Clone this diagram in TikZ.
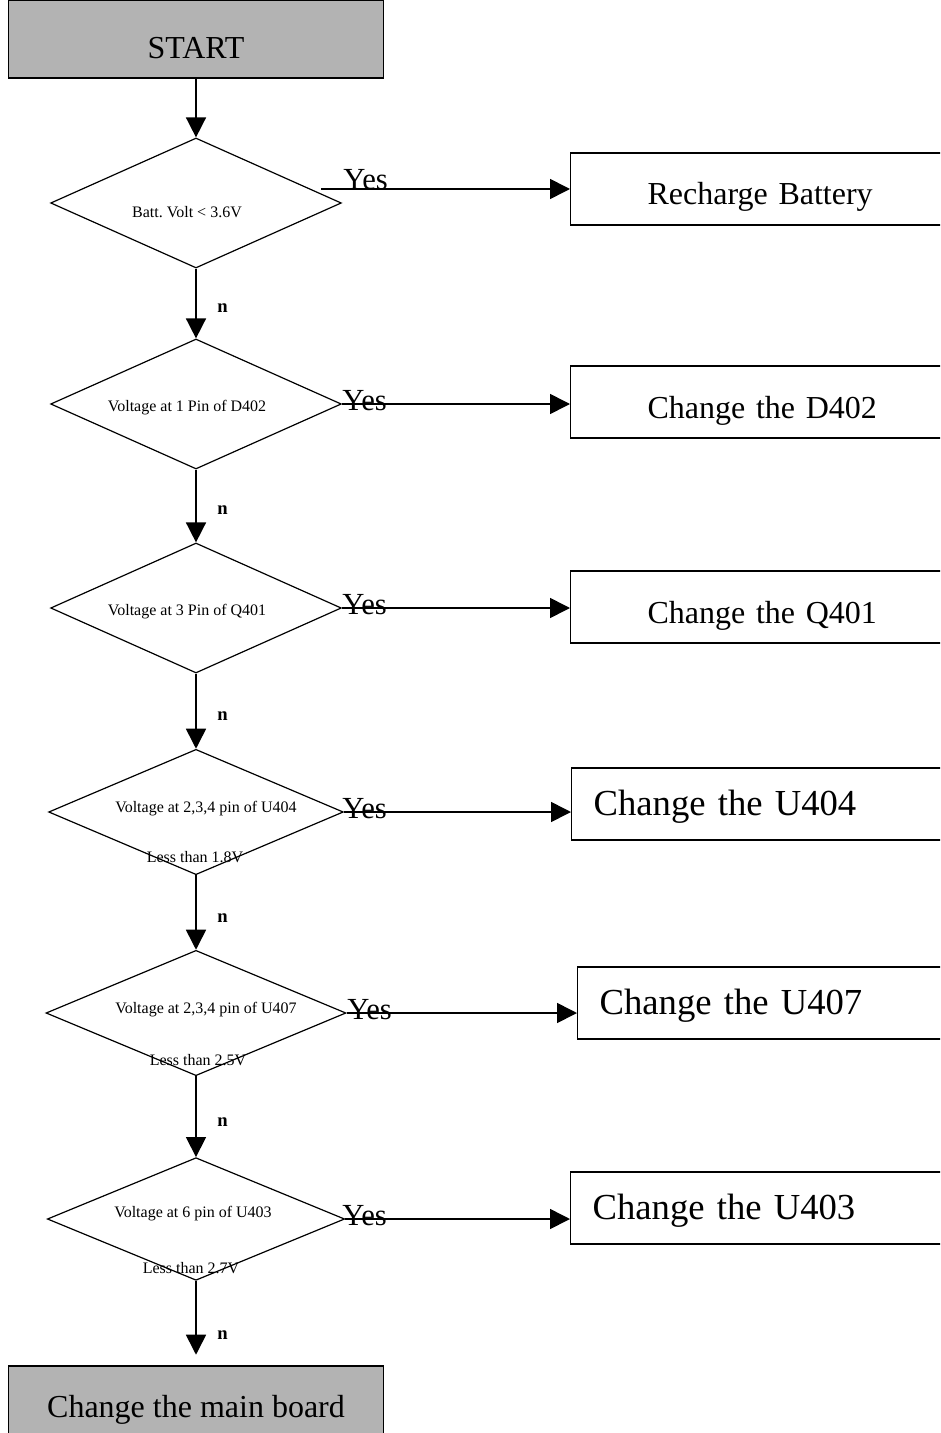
\documentclass[tikz,border=0pt]{standalone}
\usepackage{fontspec}
\setmainfont{Liberation Serif}
\usepackage{tikz}
\usetikzlibrary{shapes.geometric, arrows.meta, positioning, calc}
\definecolor{mygray}{RGB}{179,179,179}
\definecolor{mydark}{RGB}{0,0,0}
\frenchspacing
\tikzset{
  termbox/.style={rectangle, draw=mydark, fill=mygray,
    minimum width=281.25pt, minimum height=58.5pt,
    font=\fontsize{24}{28}\selectfont, line width=0.9pt},
  decision/.style={diamond, draw=mydark, inner sep=0pt, line width=0.9pt},
  actbox/.style={rectangle, draw=mydark, anchor=west,
    text width=300pt, align=left, minimum height=54pt, inner ysep=0pt,
    text height=24pt, text depth=0pt,
    font=\fontsize{24}{28}\selectfont, line width=0.9pt},
  bigact/.style={actbox, inner xsep=16.5pt, text height=20pt, text depth=3pt,
    font=\fontsize{27.5}{32}\selectfont},
  smalltxt/.style={font=\fontsize{12}{14}\selectfont, inner sep=0pt},
  yeslab/.style={anchor=base west, inner sep=0pt, font=\fontsize{23}{26}\selectfont},
  nlab/.style={right, inner sep=0pt, xshift=15.5pt, font=\bfseries\fontsize{14}{16}\selectfont},
  arrow/.style={-{Triangle[length=15pt, width=15pt]}, line width=1.2pt, color=mydark}
}
\begin{document}
\begin{tikzpicture}[x=0.75pt, y=-0.75pt]
  \useasboundingbox (0,0) rectangle (940,1433);
  \clip (0,0) rectangle (940,1433);

  % Start and end
  \node[termbox, text height=30pt, text depth=0pt] (start) at (196,39) {START};
  \node[termbox, minimum height=66pt] (fin) at (196,1410) {Change the main board};

  % Decisions
  \node[decision, minimum width=218pt, minimum height=97.5pt] (d1) at (196,203) {};
  \node[decision, minimum width=218pt, minimum height=97.5pt] (d2) at (196,404) {};
  \node[decision, minimum width=218pt, minimum height=97.5pt] (d3) at (196,608) {};
  \node[decision, minimum width=221pt, minimum height=94pt] (d4) at (196,812) {};
  \node[decision, minimum width=225pt, minimum height=94pt] (d5) at (196,1013) {};
  \node[decision, minimum width=223pt, minimum height=92pt] (d6) at (196,1219) {};

  % Texts in the decisions
  \node[smalltxt] (t1) at (187,212) {Batt. Volt < 3.6V};
  \node[smalltxt] (t2) at (187,408) {Voltage at 1 Pin of D402};
  \node[smalltxt] (t3) at (187,612) {Voltage at 3 Pin of Q401};
  \node[smalltxt] (t4) at (206,809) {Voltage at 2,3,4 pin of U404};
  \node[smalltxt] (t4b) at (195,857) {Less than 1.8V};
  \node[smalltxt] (t5) at (206,1010) {Voltage at 2,3,4 pin of U407};
  \node[smalltxt] (t5b) at (198,1060) {Less than 2.5V};
  \node[smalltxt] (t6) at (193,1214) {Voltage at 6 pin of U403};
  \node[smalltxt] (t6b) at (191,1268) {Less than 2.7V};

  % Actions
  \node[actbox, inner xsep=57.75pt] (b1) at (570,189) {Recharge Battery};
  \node[actbox, inner xsep=57.75pt] (b2) at (570,402) {Change the D402};
  \node[actbox, inner xsep=57.75pt] (b3) at (570,607) {Change the Q401};
  \node[bigact] (b4) at (571,804) {Change the U404};
  \node[bigact] (b5) at (577,1003) {Change the U407};
  \node[bigact] (b6) at (570,1208) {Change the U403};

  % Yes branches
  \coordinate (y1) at (321,189);
  \draw[arrow] (y1) -- (b1.west);
  \draw[arrow] (d2.east) -- (d2.east -| b2.west);
  \draw[arrow] (d3.east) -- (d3.east -| b3.west);
  \draw[arrow] (d4.east) -- (d4.east -| b4.west);
  \draw[arrow] (d5.east) -- (d5.east -| b5.west);
  \draw[arrow] (d6.east) -- (d6.east -| b6.west);
  \node[yeslab] (yes1) at (343,190) {Yes};
  \node[yeslab] (yes2) at (342,410) {Yes};
  \node[yeslab] (yes3) at (342,614) {Yes};
  \node[yeslab] (yes4) at (342,818) {Yes};
  \node[yeslab] (yes5) at (347,1019) {Yes};
  \node[yeslab] (yes6) at (342,1225) {Yes};

  % No branches
  \draw[arrow] (start) -- (d1);
  \draw[arrow] (d1) -- node[nlab, pos=0.56] (n1) {n} (d2);
  \draw[arrow] (d2) -- node[nlab, pos=0.56] (n2) {n} (d3);
  \draw[arrow] (d3) -- node[nlab, pos=0.56] (n3) {n} (d4);
  \draw[arrow] (d4) -- node[nlab, pos=0.58] (n4) {n} (d5);
  \draw[arrow] (d5) -- node[nlab, pos=0.57] (n5) {n} (d6);
  \draw[arrow, shorten >=8pt] (d6) -- node[nlab, pos=0.64] (n6) {n} (fin);
\end{tikzpicture}
\end{document}
